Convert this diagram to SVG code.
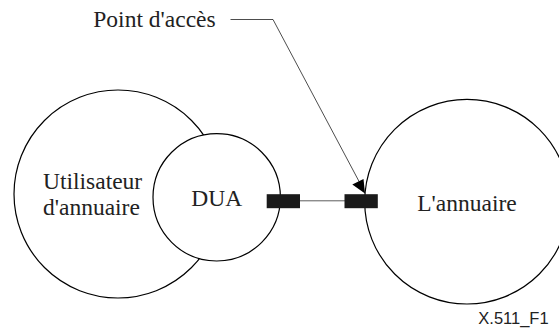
<svg xmlns="http://www.w3.org/2000/svg" width="559" height="329" viewBox="0 0 559 329">
<style>
.c{fill:#fff;stroke:#000;stroke-width:1.2}
.t{font-family:"Liberation Serif","Times New Roman",serif;font-size:23.5px;fill:#222}
.port{fill:#1a1a1a}
.ln{stroke:#000;stroke-width:0.7;fill:none}
</style>
<rect width="559" height="329" fill="#fff"/>
<g id="utilisateur">
<circle class="c" cx="118" cy="194" r="104"/>
<text class="t" x="43" y="189">Utilisateur</text>
<text class="t" x="43" y="215">d'annuaire</text>
</g>
<g id="dua">
<circle class="c" cx="216.7" cy="197.3" r="63.7"/>
<text class="t" x="216.7" y="206" text-anchor="middle">DUA</text>
</g>
<g id="annuaire">
<circle class="c" cx="467" cy="201.7" r="102.3"/>
<text class="t" x="467" y="210.7" text-anchor="middle">L'annuaire</text>
</g>
<g id="connectors">
<line x1="300" y1="200.8" x2="345" y2="200.8" stroke="#333" stroke-width="0.8"/>
<polyline class="ln" points="230.5,19.5 273,19.5 362,187"/>
<path d="M352.3,184.5 L363.5,179 L365,193.5 Z" fill="#000"/>
</g>
<g id="port-dua">
<rect class="port" x="266.7" y="194.2" width="33.3" height="14"/>
</g>
<g id="port-annuaire">
<rect class="port" x="344.5" y="194.2" width="33.3" height="14"/>
</g>
<g id="label-point">
<text class="t" x="93.3" y="27.3">Point d'accès</text>
</g>
<g id="figure-id">
<text x="478.3" y="324" font-family="Liberation Sans, Arial, sans-serif" font-size="16.5" fill="#222">X.511_F1</text>
</g>
</svg>
